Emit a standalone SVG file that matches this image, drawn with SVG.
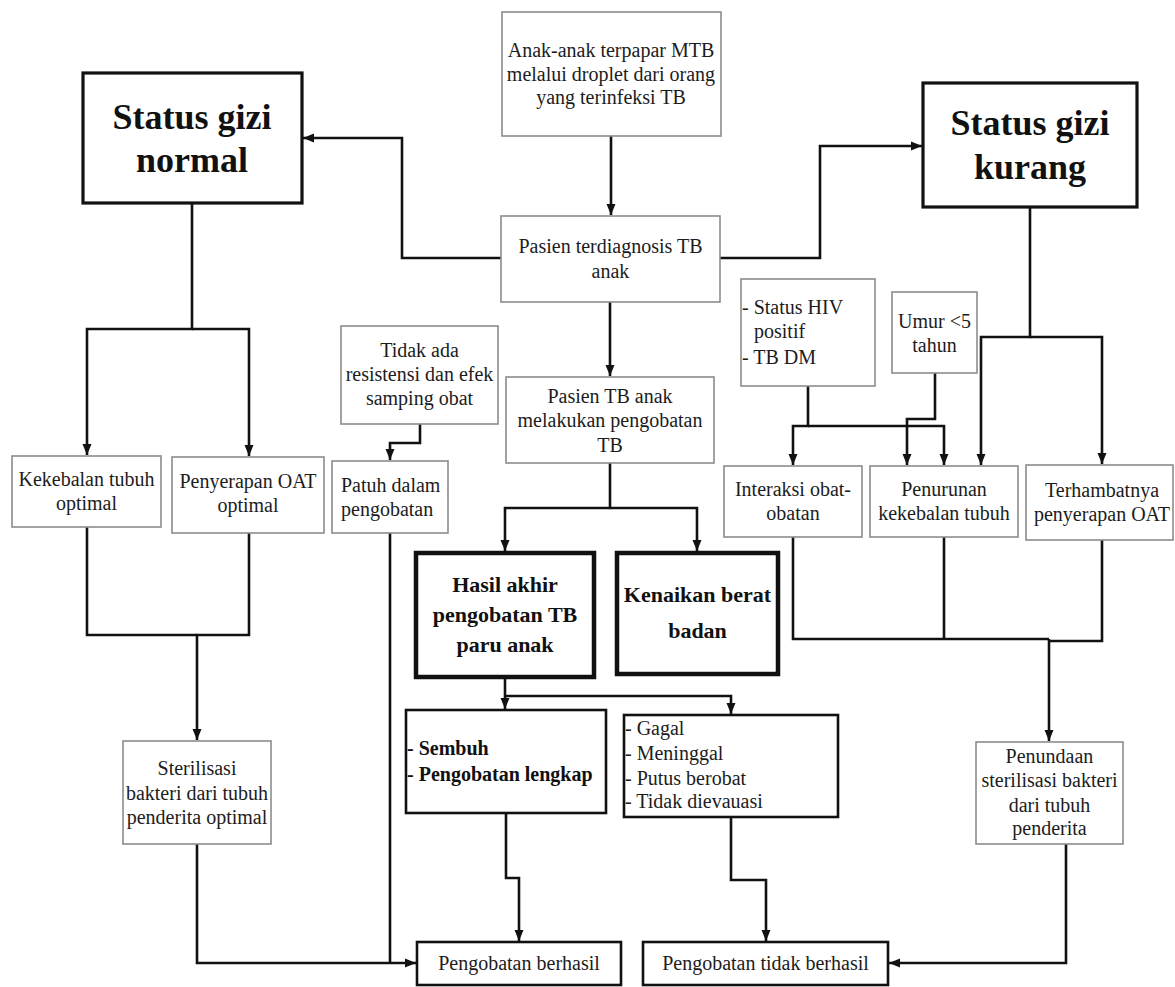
<svg xmlns="http://www.w3.org/2000/svg" width="1175" height="987" viewBox="0 0 1175 987">
<style>
.g{fill:#fff;stroke:#8c8c8c;stroke-width:1.6}
.b{fill:#fff;stroke:#111;stroke-width:2.6}
.t{fill:#fff;stroke:#111;stroke-width:3.2}
.h{fill:#fff;stroke:#111;stroke-width:4.5}
text{font-family:"Liberation Serif","Times New Roman",serif;font-size:20px;fill:#1c1c1c}
.c{text-anchor:middle}
.big{font-size:36px;font-weight:bold;fill:#111}
.mid{font-size:22px;font-weight:bold;fill:#111}
.bd{font-weight:bold;fill:#111}
#connectors path{fill:none;stroke:#111;stroke-width:2.6}
</style>
<defs>
<marker id="ar" markerUnits="userSpaceOnUse" markerWidth="11" markerHeight="11" refX="11" refY="5.5" orient="auto">
<path d="M0,1 L11,5.5 L0,10 z" fill="#111"/>
</marker>
</defs>

<g id="connectors">
<path d="M611,136 V215" marker-end="url(#ar)"/>
<path d="M501,258 H402 V138 H303" marker-end="url(#ar)"/>
<path d="M720,258 H820 V146 H922" marker-end="url(#ar)"/>
<path d="M610,302 V376" marker-end="url(#ar)"/>
<path d="M192,203 V329 H87 V455" marker-end="url(#ar)"/>
<path d="M192,329 H249 V456" marker-end="url(#ar)"/>
<path d="M87,527 V635 H197"/>
<path d="M249,533 V635 H197 V740" marker-end="url(#ar)"/>
<path d="M197,844 V963 H416" marker-end="url(#ar)"/>
<path d="M420,424 V443 H390 V460" marker-end="url(#ar)"/>
<path d="M390,533 V963"/>
<path d="M610,463 V508 H505 V551" marker-end="url(#ar)"/>
<path d="M610,508 H697 V551" marker-end="url(#ar)"/>
<path d="M505,677 V709" marker-end="url(#ar)"/>
<path d="M505,696 H731 V714" marker-end="url(#ar)"/>
<path d="M506,813 V878 H519 V941" marker-end="url(#ar)"/>
<path d="M731,817 V880 H766 V941" marker-end="url(#ar)"/>
<path d="M808,386 V426 H793 V465" marker-end="url(#ar)"/>
<path d="M808,426 H944 V465" marker-end="url(#ar)"/>
<path d="M935,373 V419 H907 V465" marker-end="url(#ar)"/>
<path d="M1030,208 V337 H981 V465" marker-end="url(#ar)"/>
<path d="M1030,337 H1102 V464" marker-end="url(#ar)"/>
<path d="M793,537 V639 H1049"/>
<path d="M944,537 V639"/>
<path d="M1102,540 V641 H1049"/>
<path d="M1049,639 V741" marker-end="url(#ar)"/>
<path d="M1066,844 V963 H889" marker-end="url(#ar)"/>
</g>

<g id="anak">
<rect class="g" x="502" y="12" width="219" height="124"/>
<text class="c" x="611" y="57">Anak-anak terpapar MTB</text>
<text class="c" x="611" y="81">melalui droplet dari orang</text>
<text class="c" x="611" y="104">yang terinfeksi TB</text>
</g>

<g id="gizi-normal">
<rect class="t" x="83" y="73" width="219" height="130"/>
<text class="c big" x="192" y="129">Status gizi</text>
<text class="c big" x="192" y="172">normal</text>
</g>

<g id="gizi-kurang">
<rect class="t" x="923" y="83" width="214" height="124"/>
<text class="c big" x="1030" y="135">Status gizi</text>
<text class="c big" x="1030" y="179">kurang</text>
</g>

<g id="pasien-diagnosis">
<rect class="g" x="501" y="216" width="219" height="86"/>
<text class="c" x="610.5" y="253">Pasien terdiagnosis TB</text>
<text class="c" x="610.5" y="278">anak</text>
</g>

<g id="pasien-pengobatan">
<rect class="g" x="506" y="377" width="208" height="86"/>
<text class="c" x="610" y="403">Pasien TB anak</text>
<text class="c" x="610" y="427">melakukan pengobatan</text>
<text class="c" x="610" y="452">TB</text>
</g>

<g id="tidak-resistensi">
<rect class="g" x="341" y="326" width="157" height="98"/>
<text class="c" x="419.5" y="357">Tidak ada</text>
<text class="c" x="419.5" y="381">resistensi dan efek</text>
<text class="c" x="419.5" y="405">samping obat</text>
</g>

<g id="kekebalan-optimal">
<rect class="g" x="12" y="456" width="149" height="71"/>
<text class="c" x="86.5" y="486">Kekebalan tubuh</text>
<text class="c" x="86.5" y="510">optimal</text>
</g>

<g id="penyerapan-optimal">
<rect class="g" x="172" y="457" width="152" height="76"/>
<text class="c" x="248" y="488">Penyerapan OAT</text>
<text class="c" x="248" y="512">optimal</text>
</g>

<g id="patuh">
<rect class="g" x="332" y="461" width="116" height="72"/>
<text x="341" y="492">Patuh dalam</text>
<text x="341" y="516">pengobatan</text>
</g>

<g id="hiv-dm">
<rect class="g" x="741" y="279" width="134" height="107"/>
<text x="742" y="314">- Status HIV</text>
<text x="754" y="338">positif</text>
<text x="742" y="364">- TB DM</text>
</g>

<g id="umur">
<rect class="g" x="892" y="292" width="85" height="81"/>
<text class="c" x="934.5" y="328">Umur &lt;5</text>
<text class="c" x="934.5" y="352">tahun</text>
</g>

<g id="interaksi">
<rect class="g" x="724" y="466" width="138" height="71"/>
<text class="c" x="793" y="496">Interaksi obat-</text>
<text class="c" x="793" y="520">obatan</text>
</g>

<g id="penurunan">
<rect class="g" x="870" y="466" width="148" height="71"/>
<text class="c" x="944" y="496">Penurunan</text>
<text class="c" x="944" y="520">kekebalan tubuh</text>
</g>

<g id="terhambat">
<rect class="g" x="1026" y="465" width="147" height="75"/>
<text class="c" x="1102" y="497">Terhambatnya</text>
<text class="c" x="1102" y="521">penyerapan OAT</text>
</g>

<g id="hasil-akhir">
<rect class="h" x="416" y="553" width="178" height="124"/>
<text class="c mid" x="505" y="592">Hasil akhir</text>
<text class="c mid" x="505" y="622">pengobatan TB</text>
<text class="c mid" x="505" y="652">paru anak</text>
</g>

<g id="kenaikan-bb">
<rect class="h" x="617" y="553" width="161" height="121"/>
<text class="c mid" x="697.5" y="602">Kenaikan berat</text>
<text class="c mid" x="697.5" y="638">badan</text>
</g>

<g id="sembuh">
<rect class="b" x="406" y="710" width="200" height="103"/>
<text class="bd" x="407" y="755">- Sembuh</text>
<text class="bd" x="407" y="781">- Pengobatan lengkap</text>
</g>

<g id="gagal">
<rect class="b" x="624" y="715" width="214" height="102"/>
<text x="625" y="735">- Gagal</text>
<text x="625" y="760">- Meninggal</text>
<text x="625" y="785">- Putus berobat</text>
<text x="625" y="808">- Tidak dievauasi</text>
</g>

<g id="sterilisasi-optimal">
<rect class="g" x="123" y="741" width="148" height="103"/>
<text class="c" x="197" y="775">Sterilisasi</text>
<text class="c" x="197" y="800">bakteri dari tubuh</text>
<text class="c" x="197" y="824">penderita optimal</text>
</g>

<g id="penundaan">
<rect class="g" x="976" y="742" width="147" height="102"/>
<text class="c" x="1049.5" y="763">Penundaan</text>
<text class="c" x="1049.5" y="787">sterilisasi bakteri</text>
<text class="c" x="1049.5" y="812">dari tubuh</text>
<text class="c" x="1049.5" y="835">penderita</text>
</g>

<g id="berhasil">
<rect class="b" x="417" y="942" width="204" height="43"/>
<text class="c" x="519" y="970">Pengobatan berhasil</text>
</g>

<g id="tidak-berhasil">
<rect class="b" x="643" y="942" width="245" height="43"/>
<text class="c" x="765.5" y="970">Pengobatan tidak berhasil</text>
</g>
</svg>
